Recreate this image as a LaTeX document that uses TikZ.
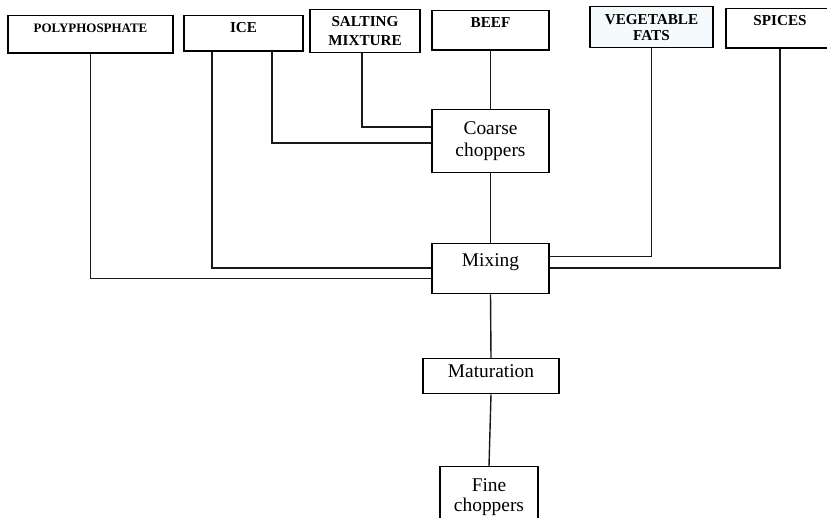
\documentclass[tikz,border=0pt]{standalone}
\usepackage{fontspec}
\setmainfont{Liberation Serif}
\usetikzlibrary{positioning}
\definecolor{paleblue}{RGB}{245,250,253}

\begin{document}
\begin{tikzpicture}[
  x=0.025cm, y=-0.025cm,
  ingredient/.style={draw, line width=1pt, inner sep=0pt, align=center, anchor=north, text height=0.43cm, font=\fontsize{10.8}{13.5}\selectfont\bfseries},
  stage/.style={draw, line width=1pt, inner sep=0pt, align=center, anchor=north, minimum width=2.925cm, font=\fontsize{13.8}{15.6}\selectfont},
  link/.style={line width=1pt, black!90}
]
  \useasboundingbox (0,0) rectangle (827,518);
  \clip (0,0) rectangle (827,518);

  % ingredients along the top
  \node[ingredient, minimum width=4.125cm, text depth=0.5cm, font=\fontsize{9.2}{11}\selectfont\bfseries] (poly) at (90.5,15) {POLYPHOSPHATE};
  \node[ingredient, minimum width=2.975cm, text depth=0.45cm] (ice) at (243.5,15) {ICE};
  \node[ingredient, minimum width=2.75cm, minimum height=1.075cm, text height=, text depth=] (salt) at (365,9) {SALTING\\MIXTURE};
  \node[ingredient, minimum width=2.925cm, text depth=0.55cm] (beef) at (490.5,10) {BEEF};
  \node[ingredient, minimum width=3.075cm, minimum height=1.025cm, text height=, text depth=, fill=paleblue, font=\fontsize{10.8}{11.4}\selectfont\bfseries] (veg) at (651.5,6) {VEGETABLE\\FATS};
  \node[ingredient, minimum width=2.7cm, text depth=0.55cm] (spices) at (780,8) {SPICES};

  % process stages
  \node[stage, minimum height=1.575cm] (coarse) at (490.5,109) {Coarse\\choppers};
  \node[stage, text height=0.575cm, text depth=0.675cm] (mixing) at (490.5,243) {Mixing};
  \node[stage, minimum width=3.4cm, text height=0.475cm, text depth=0.4cm] (matur) at (491,358) {Maturation};
  \node[stage, minimum width=2.45cm, minimum height=1.5cm, font=\fontsize{13.8}{14.2}\selectfont] (fine) at (489,466) {Fine\\choppers};

  % main line
  \draw[link] (beef.south) -- (coarse.north);
  \draw[link] (coarse.south) -- (mixing.north);
  \draw[link] (mixing.south) -- (matur.north);
  \draw[link] (matur.south) -- (fine.north);

  % side feeds
  \draw[link] ([xshift=-0.075cm]salt.south) |- ([yshift=0.36cm]coarse.west);
  \draw[link] ([xshift=0.71cm]ice.south) |- ([yshift=-0.04cm]coarse.west);
  \draw[link] ([xshift=-0.79cm]ice.south) |- ([yshift=0.02cm]mixing.west);
  \draw[link] (poly.south) |- ([yshift=-0.25cm]mixing.west);
  \draw[link] (veg.south) |- ([yshift=0.3cm]mixing.east);
  \draw[link] (spices.south) |- ([yshift=0.02cm]mixing.east);
\end{tikzpicture}
\end{document}
